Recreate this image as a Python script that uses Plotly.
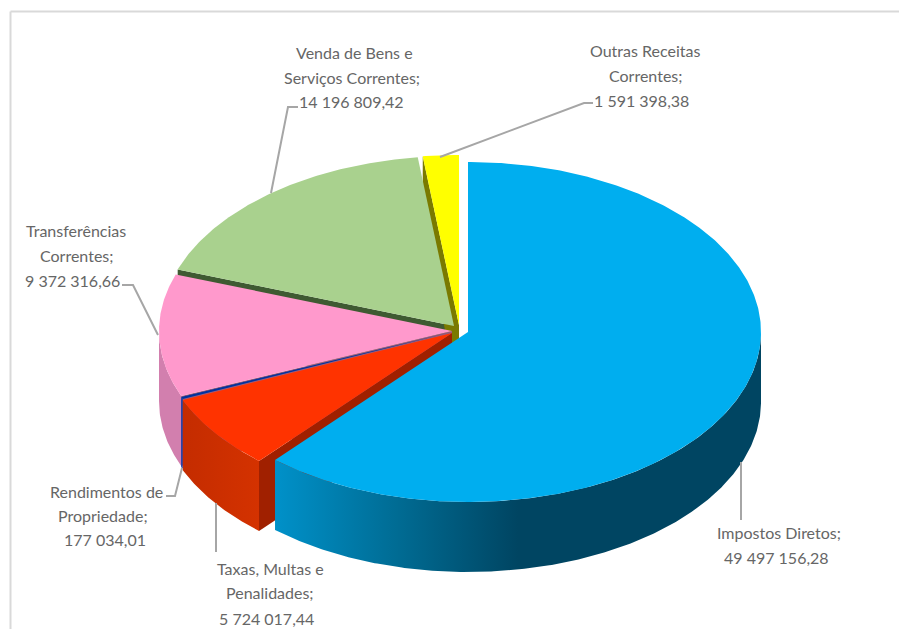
import numpy as np
import plotly.graph_objects as go

# --- data ---
categories = ["Impostos Diretos", "Taxas, Multas e Penalidades", "Rendimentos de Propriedade",
              "Transferências Correntes", "Venda de Bens e Serviços Correntes", "Outras Receitas Correntes"]
values = [49497156.28, 5724017.44, 177034.01, 9372316.66, 14196809.42, 1591398.38]
value_labels = ["49 497 156,28", "5 724 017,44", "177 034,01", "9 372 316,66", "14 196 809,42", "1 591 398,38"]

# --- style / projection ---
top_colors = ["#00aeef", "#ff3300", "#00339f", "#ff99cc", "#a9d18e", "#ffff00"]
outer_colors = ["#004562", "#cc2e00", "#0a3ab0", "#d27fae", "#6f8f5a", "#999900"]
cut_colors = ["#00405a", "#a02000", "#001f66", "#9c5c7c", "#3f5a32", "#7a7a00"]
centers = [(468, 332), (452, 333), (452, 332), (452, 331), (454, 326), (459, 325)]
RX, RY, DEPTH = 293, 170, 70

label_lines = [
    [("Impostos Diretos;", 779, 532), (value_labels[0], 776, 557)],
    [("Taxas, Multas e", 270, 568), ("Penalidades;", 270, 592), (value_labels[1], 266, 618)],
    [("Rendimentos de", 106, 491), ("Propriedade;", 103, 515), (value_labels[2], 105, 539)],
    [("Transferências", 76, 230), ("Correntes;", 76, 255), (value_labels[3], 72, 280)],
    [("Venda de Bens e", 354, 52), ("Serviços Correntes;", 352, 77), (value_labels[4], 351, 101)],
    [("Outras Receitas", 645, 50), ("Correntes;", 645, 75), (value_labels[5], 641, 100)],
]
leaders = [
    ([741, 741], [462, 520]),
    ([216, 216], [503, 552]),
    ([182, 175, 166], [468, 496, 496]),
    ([158, 133, 122], [335, 285, 285]),
    ([271, 288, 298], [193, 107, 107]),
    ([440, 584, 593], [157, 103, 103]),
]

shares = np.array(values) / np.sum(values)
edges = np.concatenate([[0], np.cumsum(shares) * 360])


def rim(c, a0, a1, dy=0):
    t = np.radians(np.linspace(a0, a1, max(int(abs(a1 - a0) * 2), 2)))
    return c[0] + RX * np.sin(t), c[1] - RY * np.cos(t) + dy


fig = go.Figure()


def poly(x, y, color, gradient=None):
    kw = dict(fillgradient=gradient) if gradient else dict(fillcolor=color)
    fig.add_trace(go.Scatter(x=list(x) + [x[0]], y=list(y) + [y[0]], mode="lines", fill="toself",
                             line=dict(width=0, color=color), hoverinfo="skip", showlegend=False, **kw))


def cut_wall(i, a):
    c = centers[i]
    rx, ry = rim(c, a, a)
    poly([rx[0], c[0], c[0], rx[0]], [ry[0], c[1], c[1] + DEPTH, ry[0] + DEPTH], cut_colors[i])


def outer_wall(i, a0, a1, gradient=None):
    c = centers[i]
    x0, y0 = rim(c, a0, a1)
    x1, y1 = rim(c, a1, a0, DEPTH)
    poly(np.r_[x0, x1], np.r_[y0, y1], outer_colors[i], gradient)


def top(i):
    c = centers[i]
    x, y = rim(c, edges[i], edges[i + 1])
    poly(np.r_[c[0], x], np.r_[c[1], y], top_colors[i])


# back slices first
cut_wall(4, edges[4])
cut_wall(5, edges[5])
top(4)
top(5)
# pink
outer_wall(3, edges[3], 270)
cut_wall(3, edges[3])
top(3)
# thin slice
outer_wall(2, edges[2], edges[3])
top(2)
# red
cut_wall(1, edges[1])
outer_wall(1, edges[1], edges[2], dict(type="horizontal", colorscale=[[0, "#c42c00"], [1, "#d43200"]]))
top(1)
# blue
outer_wall(0, 90, edges[1], dict(type="horizontal", colorscale=[
    [0, "#0091c9"], [0.25, "#006c94"], [0.5, "#004562"], [1, "#004562"]]))
top(0)

# leaders
for lx, ly in leaders:
    fig.add_trace(go.Scatter(x=lx, y=ly, mode="lines", line=dict(color="#a6a6a6", width=2),
                             hoverinfo="skip", showlegend=False))

annotations = []
for block in label_lines:
    for text, x, y in block:
        annotations.append(dict(x=x, y=y, text=text, showarrow=False, xanchor="center", yanchor="middle",
                                font=dict(family="Lato", size=16, color="#666666")))

fig.update_layout(
    width=899, height=629, margin=dict(l=0, r=0, t=0, b=0),
    paper_bgcolor="white", plot_bgcolor="white", annotations=annotations,
    xaxis=dict(range=[0, 899], visible=False, fixedrange=True),
    yaxis=dict(range=[629, 0], visible=False, fixedrange=True),
    shapes=[dict(type="line", xref="x", yref="y", x0=10.5, y0=640, x1=10.5, y1=11.5,
                 line=dict(color="#d9d9d9", width=2), layer="below"),
            dict(type="line", xref="x", yref="y", x0=10.5, y0=11.5, x1=899, y1=11.5,
                 line=dict(color="#d9d9d9", width=2), layer="below")],
)
fig.write_html("out.html", config=dict(displayModeBar=False),
               post_script="document.body.style.margin='0';document.documentElement.style.overflow='hidden';")
